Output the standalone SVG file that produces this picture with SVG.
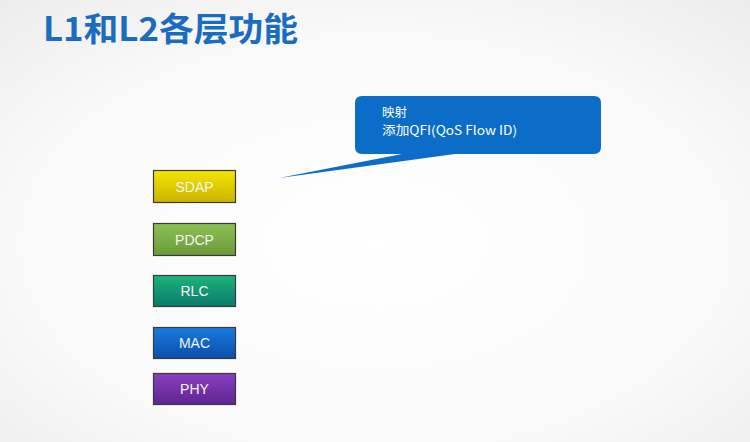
<svg xmlns="http://www.w3.org/2000/svg" width="750" height="442" viewBox="0 0 750 442">
<defs>
<radialGradient id="bg" cx="0.5" cy="0.55" r="0.75">
<stop offset="0" stop-color="#ffffff"/>
<stop offset="0.6" stop-color="#fafafa"/>
<stop offset="1" stop-color="#ececec"/>
</radialGradient>
<linearGradient id="gSDAP" x1="0" y1="0" x2="0" y2="1"><stop offset="0" stop-color="#f5e400"/><stop offset="1" stop-color="#c9b400"/></linearGradient>
<linearGradient id="gPDCP" x1="0" y1="0" x2="0" y2="1"><stop offset="0" stop-color="#8cc152"/><stop offset="1" stop-color="#6a9a3a"/></linearGradient>
<linearGradient id="gRLC" x1="0" y1="0" x2="0" y2="1"><stop offset="0" stop-color="#1db37a"/><stop offset="1" stop-color="#0b7a6a"/></linearGradient>
<linearGradient id="gMAC" x1="0" y1="0" x2="0" y2="1"><stop offset="0" stop-color="#1a7ae0"/><stop offset="1" stop-color="#0a50a8"/></linearGradient>
<linearGradient id="gPHY" x1="0" y1="0" x2="0" y2="1"><stop offset="0" stop-color="#8a3fc0"/><stop offset="1" stop-color="#5e2690"/></linearGradient>
</defs>
<style>
.box{stroke:#3a3a3a;stroke-width:1.2}
.lbl{font-family:"Liberation Sans",Arial,sans-serif;font-size:14px;fill:#f4f4f4;text-anchor:middle}
.title{font-family:"Noto Sans CJK SC","Liberation Sans",sans-serif;font-size:33px;font-weight:bold;fill:#1a6cc0}
.call{font-family:"Noto Sans CJK SC","Liberation Sans",sans-serif;font-size:12.5px;fill:#ffffff}
</style>
<rect width="750" height="442" fill="url(#bg)"/>
<text class="title" x="43" y="41" textLength="255" lengthAdjust="spacingAndGlyphs">L1和L2各层功能</text>
<g id="SDAP"><rect class="box" x="153.5" y="170.5" width="82" height="32" fill="url(#gSDAP)"/><text class="lbl" x="194.5" y="191.5">SDAP</text></g>
<g id="PDCP"><rect class="box" x="153.5" y="223.5" width="82" height="32" fill="url(#gPDCP)"/><text class="lbl" x="194.5" y="244.5">PDCP</text></g>
<g id="RLC"><rect class="box" x="153.5" y="275.5" width="82" height="31" fill="url(#gRLC)"/><text class="lbl" x="194.5" y="296">RLC</text></g>
<g id="MAC"><rect class="box" x="153.5" y="327.5" width="82" height="31" fill="url(#gMAC)"/><text class="lbl" x="194.5" y="348">MAC</text></g>
<g id="PHY"><rect class="box" x="153.5" y="373.5" width="82" height="31" fill="url(#gPHY)"/><text class="lbl" x="194.5" y="394">PHY</text></g>
<g id="callout">
<path d="M362 96 H594 Q601 96 601 103 V147 Q601 154 594 154 H455 L279 178 L402 154 H362 Q355 154 355 147 V103 Q355 96 362 96 Z" fill="#0b6dc8"/>
<text class="call" x="382" y="117">映射</text>
<text class="call" x="382" y="135" textLength="135" lengthAdjust="spacingAndGlyphs">添加QFI(QoS Flow ID)</text>
</g>
</svg>
